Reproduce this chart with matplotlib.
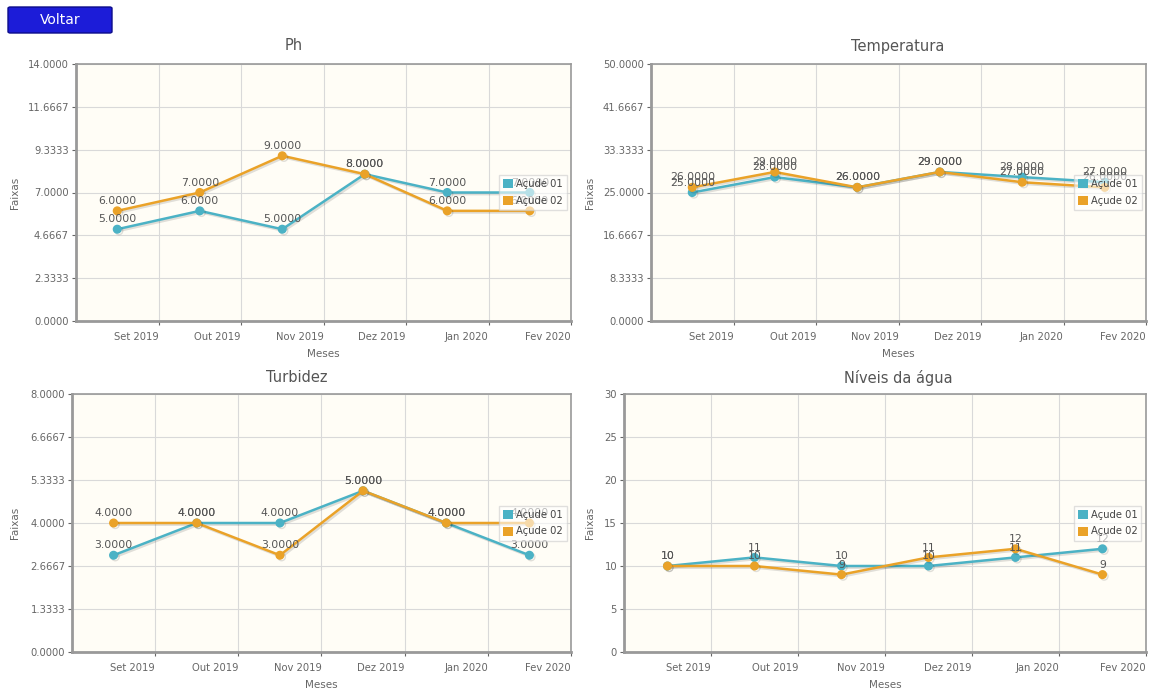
import numpy as np
import matplotlib
matplotlib.use("Agg")
import matplotlib.pyplot as plt
import matplotlib.patheffects as pe
from matplotlib.patches import Patch, FancyBboxPatch

plt.rcParams['font.family'] = ['DejaVu Sans']

# dados
meses = ['Set 2019', 'Out 2019', 'Nov 2019', 'Dez 2019', 'Jan 2020', 'Fev 2020']
series_names = ['Açude 01', 'Açude 02']

ph_01 = [5, 6, 5, 8, 7, 7]
ph_02 = [6, 7, 9, 8, 6, 6]
temp_01 = [25, 28, 26, 29, 28, 27]
temp_02 = [26, 29, 26, 29, 27, 26]
turb_01 = [3, 4, 4, 5, 4, 3]
turb_02 = [4, 4, 3, 5, 4, 4]
nivel_01 = [10, 11, 10, 10, 11, 12]
nivel_02 = [10, 10, 9, 11, 12, 9]

titles = ['Ph', 'Temperatura', 'Turbidez', 'Níveis da água']
ymax = [14, 50, 8, 30]

c1 = '#4bb2c5'
c2 = '#eaa228'
bg = '#fffdf6'
txt = '#666666'

W, H = 1149, 690
fig = plt.figure(figsize=(W / 100, H / 100), dpi=100)


def px_axes(left, top, right, bottom):
    return fig.add_axes([left / W, 1 - bottom / H, (right - left) / W, (bottom - top) / H])


boxes = [(76, 64, 571, 321), (651, 64, 1146, 321), (72, 394, 571, 652), (624, 394, 1146, 652)]
dados = [(ph_01, ph_02), (temp_01, temp_02), (turb_01, turb_02), (nivel_01, nivel_02)]
title_x = [294, 898, 297, 898]
title_y = [46, 46, 378, 378]
ylab_x = [15, 590, 15, 590]
xlab_y = [354, 354, 685, 685]

x = np.arange(len(meses))

for i in range(4):
    ax = px_axes(*boxes[i])
    ax.set_facecolor(bg)
    s1, s2 = dados[i]
    fmt = '%d' if i == 3 else '%.4f'
    for vals, col in [(s1, c1), (s2, c2)]:
        ax.plot(x, vals, '-o', color=col, lw=1.8, ms=5.5, zorder=3,
                path_effects=[pe.SimpleLineShadow(offset=(1.2, -1.2), alpha=0.12), pe.Normal()])
        for a, b in zip(x, vals):
            ax.annotate(fmt % b, (a, b), xytext=(0, 3.5), textcoords='offset points',
                        ha='center', va='bottom', fontsize=7.8, color='#555555', zorder=4)
    ax.set_xlim(-0.5, 5.5)
    ax.set_ylim(0, ymax[i])
    ax.set_xticks(x + 0.5)
    ax.set_xticklabels(meses, ha='right')
    yt = np.linspace(0, ymax[i], 7)
    ax.set_yticks(yt)
    if i == 3:
        ax.set_yticklabels(['%d' % v for v in yt])
    else:
        ax.set_yticklabels(['%.4f' % v for v in yt])
    ax.grid(True, color='#d9d9d9', lw=0.8)
    ax.set_axisbelow(True)
    ax.tick_params(labelsize=7.2, colors=txt, length=3, width=0.8, pad=2)
    ax.tick_params(axis='x', pad=5)
    for s in ax.spines.values():
        s.set_color('#999999')
        s.set_linewidth(1.2)
    ax.spines['left'].set_linewidth(2)
    ax.spines['bottom'].set_linewidth(2)
    handles = [Patch(facecolor=c1, edgecolor='none'), Patch(facecolor=c2, edgecolor='none')]
    leg = ax.legend(handles, series_names, loc='center right', bbox_to_anchor=(0.995, 0.5),
                    fontsize=7.2, frameon=True, framealpha=0.6, edgecolor='#cccccc',
                    fancybox=False, handlelength=1.0, handleheight=1.0, handletextpad=0.3,
                    borderpad=0.4, labelspacing=0.7, borderaxespad=0.2)
    for t in leg.get_texts():
        t.set_color('#444444')
    leg.set_zorder(5)
    fig.text(title_x[i] / W, 1 - title_y[i] / H, titles[i], ha='center', va='center',
             fontsize=10.5, color='#555555')
    top, bot = boxes[i][1], boxes[i][3]
    fig.text(ylab_x[i] / W, 1 - (top + bot) / 2 / H, 'Faixas', rotation=90,
             ha='center', va='center', fontsize=7.5, color=txt)
    fig.text((boxes[i][0] + boxes[i][2]) / 2 / W, 1 - xlab_y[i] / H, 'Meses',
             ha='center', va='center', fontsize=7.5, color=txt)

# botao Voltar
btn = FancyBboxPatch((8 / W, 1 - 33 / H), 104 / W, 26 / H, boxstyle='round,pad=0,rounding_size=0.002',
                     transform=fig.transFigure, facecolor='#1c1cd8', edgecolor='#0d0d8a', lw=1)
fig.patches.append(btn)
fig.text(60 / W, 1 - 20 / H, 'Voltar', ha='center', va='center', fontsize=10, color='white')

fig.savefig('out.png', dpi=100, facecolor='white')
